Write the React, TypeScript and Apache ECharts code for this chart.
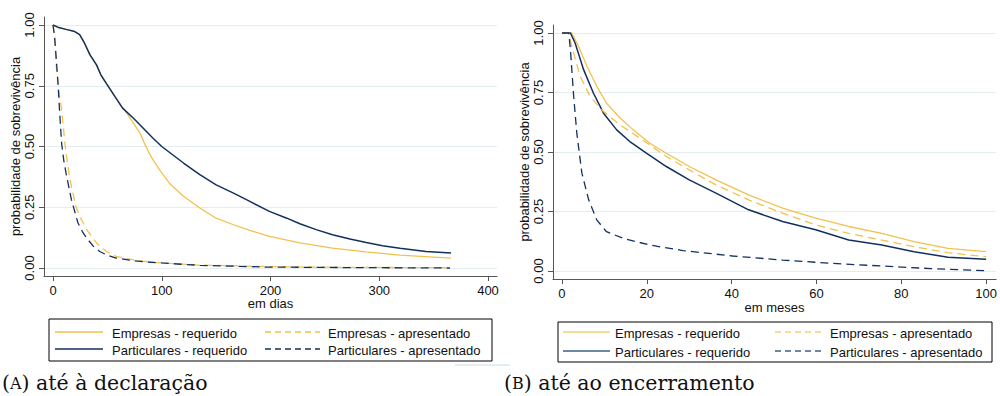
import React, { useEffect, useRef } from "react";
import * as echarts from "echarts";

// ---- Data (A) até à declaração, em dias ----
const daysTicks = [0, 100, 200, 300, 400];
const probTicks = [0, 0.25, 0.5, 0.75, 1];
const empReqDays = [
  [0, 1], [5, 0.99], [12, 0.982], [20, 0.973], [24.5, 0.96], [29, 0.925], [34, 0.877], [40, 0.836],
  [44, 0.795], [49, 0.76], [57, 0.705], [64, 0.658], [66, 0.65], [74, 0.596], [80, 0.555], [84, 0.514],
  [90, 0.459], [98, 0.404], [107, 0.349], [120, 0.295], [135, 0.247], [150, 0.205], [166, 0.178],
  [181, 0.155], [199, 0.13], [227, 0.103], [257, 0.082], [288, 0.066], [319, 0.053], [366, 0.041],
];
const empApresDays = [
  [0, 1], [1.5, 0.95], [3, 0.83], [5, 0.74], [8, 0.65], [11, 0.51], [15, 0.377], [21, 0.253],
  [26, 0.2], [31, 0.158], [37, 0.12], [43, 0.089], [50, 0.066], [58, 0.048], [75, 0.032], [98, 0.021],
  [135, 0.012], [196, 0.006], [260, 0.003], [365, 0.001],
];
const partReqDays = [
  [0, 1], [5, 0.99], [12, 0.982], [20, 0.973], [24.5, 0.96], [29, 0.925], [34, 0.877], [40, 0.836],
  [44, 0.795], [49, 0.76], [57, 0.705], [64, 0.658], [74, 0.616], [83, 0.575], [92, 0.534], [100, 0.5],
  [120, 0.432], [135, 0.384], [150, 0.342], [166, 0.308], [181, 0.274], [199, 0.233], [215, 0.205],
  [227, 0.182], [242, 0.158], [257, 0.137], [273, 0.119], [288, 0.105], [303, 0.092], [319, 0.081],
  [343, 0.068], [366, 0.062],
];
const partApresDays = [
  [0, 1], [1.5, 0.95], [3, 0.86], [4.6, 0.76], [6, 0.65], [8, 0.51], [10, 0.44], [12, 0.39],
  [17, 0.28], [23, 0.185], [27, 0.15], [31, 0.123], [37, 0.09], [43, 0.068], [50, 0.052], [58, 0.041],
  [75, 0.029], [98, 0.021], [135, 0.011], [196, 0.004], [260, 0.002], [365, 0.0],
];

// ---- Data (B) até ao encerramento, em meses ----
const monthsTicks = [0, 20, 40, 60, 80, 100];
const empReqMonths = [
  [0, 1], [2.3, 1.0], [3.9, 0.944], [5.9, 0.86], [8.2, 0.776], [10.5, 0.705], [13.7, 0.643],
  [16.8, 0.593], [20.7, 0.537], [24.6, 0.495], [30, 0.439], [36.3, 0.383], [44, 0.32], [52, 0.264],
  [59.8, 0.222], [67.6, 0.187], [75.4, 0.158], [83, 0.123], [91, 0.095], [100, 0.081],
];
const empApresMonths = [
  [0, 1], [1.6, 1.0], [2.3, 0.944], [4.3, 0.818], [6.6, 0.734], [9.8, 0.67], [13.7, 0.614],
  [18.4, 0.558], [24.6, 0.481], [30, 0.425], [36.3, 0.362], [44, 0.299], [52, 0.243], [59.8, 0.194],
  [67.6, 0.158], [75.4, 0.13], [83, 0.102], [91, 0.077], [100, 0.06],
];
const partReqMonths = [
  [0, 1], [2, 1.0], [3.1, 0.958], [5.1, 0.846], [7.4, 0.748], [9.8, 0.663], [12.9, 0.593],
  [16, 0.544], [19.9, 0.495], [24.6, 0.439], [30, 0.383], [36.3, 0.327], [44, 0.257], [52, 0.208],
  [59.8, 0.173], [67.6, 0.13], [75.4, 0.109], [83, 0.081], [91, 0.058], [100, 0.049],
];
const partApresMonths = [
  [0, 1], [1.6, 1.0], [2, 0.93], [2.7, 0.748], [3.5, 0.579], [4.7, 0.411], [6.3, 0.299],
  [8.2, 0.215], [10.5, 0.165], [14.5, 0.137], [20.7, 0.109], [28.5, 0.086], [40.2, 0.063],
  [52, 0.046], [63.7, 0.032], [75.4, 0.021], [87, 0.01], [100, 0.001],
];

const seriesNames = [
  "Empresas - requerido",
  "Empresas - apresentado",
  "Particulares - requerido",
  "Particulares - apresentado",
];
const axisTitles = { yTitle: "probabilidade de sobrevivência", xA: "em dias", xB: "em meses" };
const captionsText = ["até à declaração", "até ao encerramento"];
const captionLetters = ["A", "B"];

const YELLOW = "#f2c14e";
const NAVY = "#12305f";
const YELLOW_FADED = "#f6dc96";
const NAVY_FADED = "#6e86a8";
const GRID = "#e4edef";
const AXIS = "#555";
const FONT = "Liberation Sans, Arial, sans-serif";
const SERIF = "DejaVu Serif, Liberation Serif, serif";
const DASH = [8, 5];

function makeAxes(gridIndex: number, ticks: number[], min: number, max: number, name: string, yMin: number, yMax: number, nameGapX: number) {
  const x = {
    type: "value",
    gridIndex,
    min,
    max,
    name,
    nameLocation: "middle",
    nameGap: nameGapX,
    nameMoveOverlap: false,
    nameTextStyle: { color: "#111", fontSize: 13, fontFamily: FONT },
    axisLine: { show: true, onZero: false, lineStyle: { color: AXIS, width: 1 } },
    axisTick: { show: true, length: 5, customValues: ticks, lineStyle: { color: AXIS } },
    axisLabel: { customValues: ticks, color: "#111", fontSize: 13, fontFamily: FONT, margin: 8 },
    splitLine: { show: false },
  };
  const y = {
    type: "value",
    gridIndex,
    min: yMin,
    max: yMax,
    name: axisTitles.yTitle,
    nameLocation: "middle",
    nameGap: 22,
    nameMoveOverlap: false,
    nameTextStyle: { color: "#111", fontSize: 13, fontFamily: FONT },
    axisLine: { show: true, onZero: false, lineStyle: { color: AXIS, width: 1 } },
    axisTick: { show: true, length: 5, customValues: probTicks, lineStyle: { color: AXIS } },
    axisLabel: {
      customValues: probTicks,
      rotate: 90,
      color: "#111",
      fontSize: 13,
      fontFamily: FONT,
      margin: 8,
      formatter: (v: number) => v.toFixed(2),
    },
    splitLine: { show: true, lineStyle: { color: GRID, width: 1 } },
  };
  return { x, y };
}

function line(name: string, data: number[][], idx: number, color: string, dashed: boolean, width: number) {
  return {
    type: "line",
    name,
    data,
    xAxisIndex: idx,
    yAxisIndex: idx,
    symbol: "none",
    smooth: false,
    lineStyle: { color, width, type: dashed ? DASH : "solid" },
    z: dashed ? 3 : 2,
  };
}

function legendBox(x: number, y: number, w: number, h: number, rows: number[], colLine: number[][], colText: number[], faded: boolean) {
  const colors = faded ? [YELLOW_FADED, YELLOW_FADED, NAVY_FADED, NAVY_FADED] : [YELLOW, YELLOW, NAVY, NAVY];
  const children: any[] = [
    { type: "rect", shape: { x, y, width: w, height: h }, style: { fill: "#fff", stroke: "#000", lineWidth: 1 } },
  ];
  seriesNames.forEach((nm, i) => {
    const col = i % 2;
    const row = Math.floor(i / 2);
    const dashed = col === 1;
    children.push({
      type: "line",
      shape: { x1: colLine[col][0], y1: rows[row] - 1, x2: colLine[col][1], y2: rows[row] - 1 },
      style: { stroke: colors[i], lineWidth: faded ? 2 : 1.3, lineDash: dashed ? [6, 4] : null },
    });
    children.push({
      type: "text",
      x: colText[col],
      y: rows[row],
      style: { text: nm, fill: "#111", font: `13px ${FONT}`, verticalAlign: "middle", align: "left" },
    });
  });
  return { type: "group", children };
}

function caption(x: number, y: number, letter: string, text: string) {
  return {
    type: "text",
    x,
    y,
    style: {
      text: `{p|(}{s|${letter}}{p|) ${text}}`,
      verticalAlign: "middle",
      rich: {
        p: { font: `20.5px ${SERIF}`, fill: "#111", lineHeight: 22 },
        s: { font: `16px ${SERIF}`, fill: "#111", lineHeight: 22 },
      },
    },
  };
}

export default function App() {
  const ref = useRef<HTMLDivElement>(null);
  useEffect(() => {
    if (!ref.current) return;
    const chart = echarts.init(ref.current, undefined, { renderer: "svg" });

    // left grid: x 44..497, y 17..276 ; 0 days at 53, 400 at 488 ; 1.00 at 25, 0 at 268
    const lpx = (488 - 53) / 400;
    const lMin = -(53 - 44) / lpx;
    const lMax = 400 + (497 - 488) / lpx;
    const lpy = 268 - 25;
    const lyMin = -(276 - 268) / lpy;
    const lyMax = 1 + (25 - 17) / lpy;
    // right grid: x 553..998, y 25..279 ; 0 at 562, 100 at 988 ; 1.00 at 33, 0 at 271
    const rpx = (988 - 562) / 100;
    const rMin = -(562 - 553) / rpx;
    const rMax = 100 + (998 - 988) / rpx;
    const rpy = 271 - 33;
    const ryMin = -(279 - 271) / rpy;
    const ryMax = 1 + (33 - 25) / rpy;

    const A = makeAxes(0, daysTicks, lMin, lMax, axisTitles.xA, lyMin, lyMax, 21);
    const B = makeAxes(1, monthsTicks, rMin, rMax, axisTitles.xB, ryMin, ryMax, 22);

    chart.setOption({
      animation: false,
      backgroundColor: "#fff",
      grid: [
        { left: 44, top: 17, width: 453, height: 259, containLabel: false },
        { left: 553, top: 25, width: 445, height: 254, containLabel: false },
      ],
      xAxis: [A.x, B.x],
      yAxis: [A.y, B.y],
      series: [
        line(seriesNames[0], empReqDays, 0, YELLOW, false, 1.3),
        line(seriesNames[1], empApresDays, 0, YELLOW, true, 1.3),
        line(seriesNames[2], partReqDays, 0, NAVY, false, 1.5),
        line(seriesNames[3], partApresDays, 0, NAVY, true, 1.3),
        line(seriesNames[0], empReqMonths, 1, YELLOW, false, 1.3),
        line(seriesNames[1], empApresMonths, 1, YELLOW, true, 1.3),
        line(seriesNames[2], partReqMonths, 1, NAVY, false, 1.5),
        line(seriesNames[3], partApresMonths, 1, NAVY, true, 1.3),
      ],
      graphic: [
        legendBox(49, 319, 443, 42, [333, 350], [[55, 103], [265, 320]], [112, 328], false),
        legendBox(558, 322, 434, 40, [333, 352], [[563, 610], [775, 823]], [615, 830], true),
        { type: "line", shape: { x1: 455, y1: 365, x2: 510, y2: 365 }, style: { stroke: "#c9d8e8", lineWidth: 1 } },
        caption(2, 383, captionLetters[0], captionsText[0]),
        caption(504, 383, captionLetters[1], captionsText[1]),
      ],
    });
    return () => chart.dispose();
  }, []);
  return <div ref={ref} style={{ position: "fixed", left: 0, top: 0, width: 1000, height: 396 }} />;
}
